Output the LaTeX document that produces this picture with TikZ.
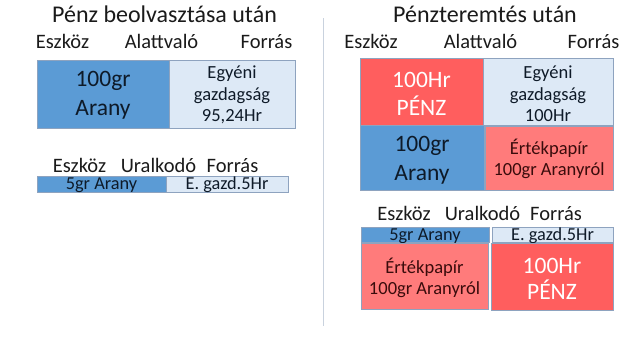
\documentclass[tikz,border=0pt]{standalone}
\usepackage{fontspec}
\setmainfont{Carlito}
\definecolor{bblue}{HTML}{5B9BD5}
\definecolor{lblue}{HTML}{DDE9F6}
\definecolor{rred}{HTML}{FF5E5E}
\definecolor{lred}{HTML}{FF7B7B}
\definecolor{edge}{HTML}{8EA3BF}
\definecolor{navy}{HTML}{0E1A28}
\definecolor{dred}{HTML}{3A0C0C}
\definecolor{ink}{HTML}{1A1A1A}
\definecolor{divc}{HTML}{C9D2DE}
\begin{document}
\begin{tikzpicture}[x=1pt,y=-1pt,
  title/.style={text=ink,font=\fontsize{24}{26}\selectfont,inner sep=0,anchor=base},
  hdr/.style={text=ink,font=\fontsize{20.5}{24}\selectfont,inner sep=0,anchor=base},
  box/.style={draw=edge,line width=0.6pt,inner sep=0,outer sep=0,align=center,anchor=north west},
  big/.style={font=\fontsize{23.5}{28.3}\selectfont},
  mid/.style={font=\fontsize{18.5}{21.7}\selectfont},
  small/.style={font=\fontsize{18.3}{18}\selectfont},
  bluebox/.style={box,fill=bblue,text=navy},
  lightbox/.style={box,fill=lblue,text=navy},
  redbox/.style={box,fill=rred,text=white},
  lredbox/.style={box,fill=lred,text=dred}]
\useasboundingbox (0,0) rectangle (640,360);
% ---------- left panel ----------
\node[title] (lt) at (164.5,22) {Pénz beolvasztása után};
\node[hdr] (le) at (62.5,48.3) {Eszköz};
\node[hdr] (la) at (161.5,48.3) {Alattvaló};
\node[hdr] (lf) at (266.5,48.3) {Forrás};
\node[bluebox,big,minimum width=132pt,minimum height=68pt,text height=55pt,text depth=13pt] (lgold) at (37,60) {100gr\\Arany};
\node[lightbox,mid,minimum width=126pt,minimum height=68pt,text height=61.7pt,text depth=6.3pt] (lwealth) at (169,60) {Egyéni\\gazdagság\\95,24Hr};
\node[hdr] (le2) at (79.5,172.3) {Eszköz};
\node[hdr] (lu2) at (158.5,172.3) {Uralkodó};
\node[hdr] (lf2) at (232.5,172.3) {Forrás};
\node[bluebox,small,minimum width=129pt,minimum height=16pt,text height=13.7pt,text depth=2.3pt] (lbar1) at (37,176) {5gr Arany};
\node[lightbox,small,minimum width=122pt,minimum height=16pt,text height=13.7pt,text depth=2.3pt] (lbar2) at (166,176) {E. gazd.5Hr};
% ---------- divider ----------
\coordinate (dtop) at (323,18);
\coordinate (dbot) at (323,326);
\draw[divc,line width=0.8pt] (dtop) -- (dbot);
% ---------- right panel ----------
\node[title] (rt) at (485,22.5) {Pénzteremtés után};
\node[hdr] (re) at (371,48.3) {Eszköz};
\node[hdr] (ra) at (480.5,48.3) {Alattvaló};
\node[hdr] (rf) at (593.5,48.3) {Forrás};
\node[redbox,minimum width=123pt,minimum height=67pt,text height=57pt,text depth=10pt,font=\fontsize{23.5}{27.7}\selectfont] (rmoney) at (360,58) {100Hr\\PÉNZ};
\node[lightbox,mid,minimum width=130pt,minimum height=67pt,text height=63.7pt,text depth=3.3pt] (rwealth) at (483,58) {Egyéni\\gazdagság\\100Hr};
\node[bluebox,big,minimum width=124pt,minimum height=65pt,text height=55pt,text depth=10pt] (rgold) at (360,125) {100gr\\Arany};
\node[lredbox,minimum width=128pt,minimum height=64pt,text height=49.5pt,text depth=14.5pt,font=\fontsize{18.5}{21}\selectfont] (rpaper) at (485,126) {Értékpapír\\100gr Aranyról};
\node[hdr] (re2) at (404,220) {Eszköz};
\node[hdr] (ru2) at (482.5,220) {Uralkodó};
\node[hdr] (rf2) at (556,220) {Forrás};
\node[bluebox,small,minimum width=128pt,minimum height=15pt,text height=13.7pt,text depth=1.3pt] (rbar1) at (361,227) {5gr Arany};
\node[lightbox,small,minimum width=121pt,minimum height=15pt,text height=13.7pt,text depth=1.3pt] (rbar2) at (492,227) {E. gazd.5Hr};
\node[lredbox,minimum width=127pt,minimum height=66pt,text height=51pt,text depth=15pt,font=\fontsize{18.5}{21}\selectfont] (rpaper2) at (361,243) {Értékpapír\\100gr Aranyról};
\node[redbox,minimum width=122pt,minimum height=67pt,text height=56.3pt,text depth=10.7pt,font=\fontsize{23.5}{26}\selectfont] (rmoney2) at (491,243) {100Hr\\PÉNZ};
\end{tikzpicture}
\end{document}
